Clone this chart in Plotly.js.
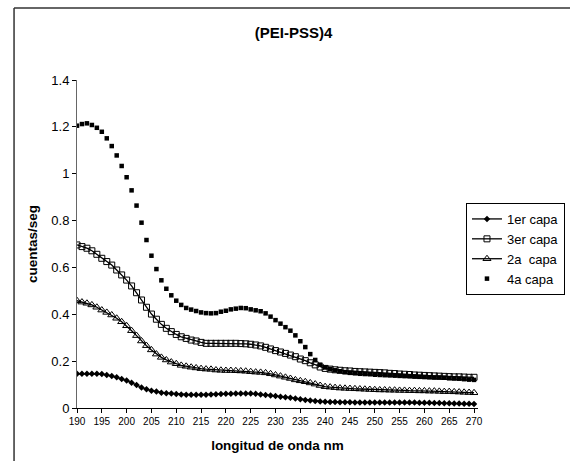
<!DOCTYPE html>
<html>
<head>
<meta charset="utf-8">
<script src="https://cdn.plot.ly/plotly-3.0.1.min.js"></script>
<style>html,body{margin:0;padding:0;background:#fff;}#chart{width:570px;height:461px;}</style>
</head>
<body>
<div id="chart"></div>
<script>
var wavelength = [];
for (var w = 190; w <= 270; w++) wavelength.push(w);

var capa1 = [0.146,0.146,0.146,0.146,0.146,0.145,0.141,0.137,0.131,0.124,
 0.117,0.108,0.098,0.088,0.080,0.074,0.070,0.065,0.063,0.062,
 0.060,0.058,0.057,0.057,0.057,0.057,0.057,0.058,0.059,0.060,
 0.061,0.061,0.062,0.062,0.062,0.062,0.061,0.058,0.055,0.053,
 0.051,0.048,0.046,0.044,0.041,0.037,0.034,0.032,0.030,0.028,
 0.027,0.026,0.026,0.025,0.025,0.025,0.024,0.024,0.024,0.023,
 0.023,0.023,0.023,0.023,0.023,0.023,0.023,0.023,0.023,0.022,
 0.022,0.022,0.021,0.021,0.020,0.020,0.019,0.019,0.018,0.018,0.017];

var capa3 = [0.696,0.689,0.682,0.671,0.656,0.639,0.625,0.610,0.589,0.568,
 0.546,0.521,0.492,0.461,0.430,0.401,0.379,0.357,0.340,0.326,
 0.314,0.304,0.297,0.290,0.286,0.280,0.276,0.276,0.276,0.276,
 0.276,0.276,0.276,0.275,0.274,0.272,0.269,0.265,0.259,0.252,
 0.245,0.239,0.233,0.226,0.219,0.209,0.202,0.193,0.184,0.175,
 0.169,0.166,0.163,0.161,0.159,0.158,0.156,0.155,0.154,0.153,
 0.152,0.151,0.150,0.148,0.147,0.145,0.144,0.143,0.141,0.140,
 0.139,0.138,0.137,0.136,0.135,0.134,0.133,0.133,0.132,0.131,0.131];

var capa2 = [0.458,0.452,0.447,0.440,0.430,0.418,0.408,0.397,0.383,0.368,
 0.351,0.330,0.309,0.286,0.266,0.248,0.230,0.216,0.205,0.196,
 0.189,0.182,0.178,0.174,0.171,0.168,0.166,0.165,0.162,0.161,
 0.160,0.160,0.159,0.158,0.157,0.155,0.153,0.152,0.150,0.146,
 0.141,0.136,0.131,0.126,0.120,0.116,0.112,0.107,0.102,0.096,
 0.091,0.089,0.087,0.085,0.084,0.083,0.082,0.081,0.080,0.079,
 0.078,0.077,0.077,0.076,0.076,0.075,0.075,0.074,0.074,0.073,
 0.073,0.072,0.072,0.071,0.070,0.070,0.069,0.068,0.067,0.066,0.065];

var capa4 = [1.205,1.212,1.215,1.208,1.196,1.179,1.151,1.118,1.078,1.033,
 0.985,0.929,0.864,0.791,0.717,0.650,0.593,0.545,0.509,0.481,
 0.458,0.440,0.427,0.420,0.414,0.408,0.405,0.404,0.405,0.411,
 0.415,0.421,0.424,0.427,0.426,0.421,0.417,0.413,0.404,0.390,
 0.375,0.360,0.345,0.330,0.310,0.285,0.260,0.230,0.205,0.185,
 0.173,0.166,0.161,0.157,0.153,0.150,0.148,0.146,0.145,0.144,
 0.142,0.141,0.140,0.139,0.138,0.137,0.136,0.135,0.134,0.133,
 0.132,0.131,0.130,0.130,0.129,0.127,0.126,0.125,0.123,0.121,0.120];

var seriesNames = ["1er capa", "3er capa", "2a  capa", "4a capa"];
var xTickVals = [190,195,200,205,210,215,220,225,230,235,240,245,250,255,260,265,270];

var font = "Liberation Sans, Arial, sans-serif";

var traces = [
  {x: wavelength, y: capa1, name: seriesNames[0], mode: "lines+markers",
   line: {color: "#000", width: 1.3},
   marker: {symbol: "diamond", size: 5, color: "#000"}},
  {x: wavelength, y: capa3, name: seriesNames[1], mode: "lines+markers",
   line: {color: "#000", width: 1.3},
   marker: {symbol: "square-open", size: 6, color: "#000", line: {width: 1, color: "#000"}}},
  {x: wavelength, y: capa2, name: seriesNames[2], mode: "lines+markers",
   line: {color: "#000", width: 1.3},
   marker: {symbol: "triangle-up-open", size: 7, color: "#000", line: {width: 1, color: "#000"}}},
  {x: wavelength, y: capa4, name: seriesNames[3], mode: "markers",
   marker: {symbol: "square", size: 4.5, color: "#000"}}
];

var layout = {
  width: 570, height: 461,
  margin: {l: 77, r: 92, t: 80, b: 53, autoexpand: false},
  paper_bgcolor: "#fff", plot_bgcolor: "#fff",
  font: {family: font, color: "#000"},
  title: {text: "(PEI-PSS)4", font: {family: font, size: 15, weight: "bold", color: "#000"},
          x: 0.515, xanchor: "center", y: 0.928, yanchor: "middle"},
  xaxis: {range: [190, 270.8], tickmode: "array", tickvals: xTickVals,
          ticks: "outside", ticklen: 4, tickcolor: "#000", tickwidth: 1,
          showline: true, linecolor: "#000", linewidth: 1, showgrid: false, zeroline: false,
          tickfont: {size: 10, family: font, color: "#000"},
          title: {text: "longitud de onda nm", font: {size: 13.5, weight: "bold", family: font, color: "#000"}, standoff: 14}},
  yaxis: {range: [0, 1.4], tickvals: [0,0.2,0.4,0.6,0.8,1,1.2,1.4],
          ticks: "outside", ticklen: 4, tickcolor: "#000", tickwidth: 1,
          showline: true, linecolor: "#666", linewidth: 1, showgrid: false, zeroline: false,
          tickfont: {size: 13, family: font, color: "#000"},
          title: {text: "cuentas/seg", font: {size: 13.5, weight: "bold", family: font, color: "#000"}, standoff: 10}},
  legend: {xref: "container", yref: "container", x: 0.8175, xanchor: "left", y: 0.5597, yanchor: "top",
           bordercolor: "#000", borderwidth: 1, bgcolor: "#fff",
           font: {size: 13, family: font, color: "#000"}, tracegroupgap: 0, itemwidth: 30},
  showlegend: true,
  shapes: [
    {type: "line", xref: "paper", yref: "paper", x0: -0.157, x1: -0.157, y0: 1.2195, y1: -0.3,
     line: {color: "#333", width: 1.5}},
    {type: "line", xref: "paper", yref: "paper", x0: -0.157, x1: 1.4, y0: 1.2195, y1: 1.2195,
     line: {color: "#333", width: 1.5}}
  ]
};

Plotly.newPlot("chart", traces, layout, {displayModeBar: false, staticPlot: true});
</script>
</body>
</html>
